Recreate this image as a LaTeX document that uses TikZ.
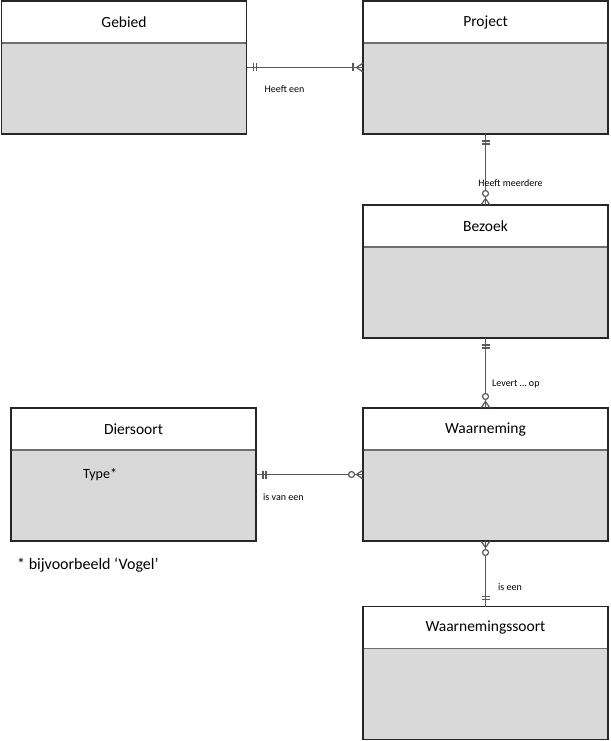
\documentclass[tikz,border=0pt]{standalone}
\usepackage{fontspec}
\setmainfont{Carlito}
\usetikzlibrary{calc}
\definecolor{bodygray}{HTML}{D9D9D9}
\definecolor{edgecol}{HTML}{262626}
\definecolor{headline}{HTML}{6E6E6E}
\definecolor{conncol}{HTML}{595959}
\tikzset{
  entity/.style={fill=bodygray, minimum width=245pt, minimum height=133pt, inner sep=0pt, outer sep=0pt},
  etitle/.style={font=\fontsize{15.5}{18}\selectfont, inner sep=0pt},
  rel/.style={font=\fontsize{10}{12}\selectfont, inner sep=0pt},
  conn/.style={draw=conncol, line width=1.2pt},
  boxedge/.style={draw=edgecol, line width=1.5pt},
  hline/.style={draw=headline, line width=1.8pt},
}
\newcommand\entitybox[4]{%
  \node[entity] (#1) at (#2,#3) {};
  \fill[white] (#1.north west) rectangle ([yshift=-42pt]#1.north east);
  \draw[hline] ([yshift=-42pt]#1.north west) -- ([yshift=-42pt]#1.north east);
  \draw[boxedge] (#1.north west) rectangle (#1.south east);
  \node[etitle] (#1-title) at ([yshift=-21pt]#1.north) {#4};
}
% double bar (one and only one) at end #1, line towards #2
\newcommand\markbars[2]{%
  \coordinate (mA) at ($(#1)!7pt!(#2)$);
  \coordinate (mB) at ($(#1)!10pt!(#2)$);
  \draw[conn] ($(mA)!4pt!90:(#2)$) -- ($(mA)!4pt!-90:(#2)$);
  \draw[conn] ($(mB)!4pt!90:(#2)$) -- ($(mB)!4pt!-90:(#2)$);
}
% crow foot at end #1
\newcommand\markcrow[2]{%
  \coordinate (mC) at ($(#1)!6.5pt!(#2)$);
  \draw[conn] ($(#1)!4.5pt!90:(#2)$) -- (mC) -- ($(#1)!4.5pt!-90:(#2)$);
}
% one or many
\newcommand\markonemany[2]{%
  \markcrow{#1}{#2}
  \coordinate (mD) at ($(#1)!10pt!(#2)$);
  \draw[conn] ($(mD)!4pt!90:(#2)$) -- ($(mD)!4pt!-90:(#2)$);
}
% zero or many
\newcommand\markzeromany[2]{%
  \markcrow{#1}{#2}
  \draw[conn, fill=white] ($(#1)!11.5pt!(#2)$) circle (3pt);
}
\begin{document}
\begin{tikzpicture}[x=1pt, y=-1pt]
\useasboundingbox (0,0) rectangle (610,741);
\fill[white] (0,0) rectangle (610,741);

\entitybox{gebied}{124}{67.5}{Gebied}
\entitybox{project}{485.5}{67.5}{Project}
\entitybox{bezoek}{485.5}{271.5}{Bezoek}
\entitybox{waarneming}{485.5}{474.5}{Waarneming}
\entitybox{diersoort}{133.5}{474.5}{Diersoort}
\entitybox{wsoort}{485.5}{673}{Waarnemingssoort}

\node[font=\fontsize{14}{16}\selectfont, anchor=west, inner sep=0pt] (type) at (83,475) {Type*};
\node[font=\fontsize{16}{19}\selectfont, anchor=west, inner sep=0pt] (note) at (17,565) {* bijvoorbeeld ‘Vogel’};

% connectors
\draw[conn] (gebied.east) -- (project.west);
\markbars{gebied.east}{project.west}
\markonemany{project.west}{gebied.east}

\draw[conn] (project.south) -- (bezoek.north);
\markbars{project.south}{bezoek.north}
\markzeromany{bezoek.north}{project.south}

\draw[conn] (bezoek.south) -- (waarneming.north);
\markbars{bezoek.south}{waarneming.north}
\markzeromany{waarneming.north}{bezoek.south}

\draw[conn] (diersoort.east) -- (waarneming.west);
\markbars{diersoort.east}{waarneming.west}
\markzeromany{waarneming.west}{diersoort.east}

\draw[conn] (waarneming.south) -- (wsoort.north);
\markzeromany{waarneming.south}{wsoort.north}
\markbars{wsoort.north}{waarneming.south}

% labels
\node[rel] (l1) at (284.5,89) {Heeft een};
\node[rel] (l2) at (510.5,183) {Heeft meerdere};
\node[rel, anchor=west] (l3) at (492,384) {Levert … op};
\node[rel, anchor=west] (l4) at (263,497) {is van een};
\node[rel, anchor=west] (l5) at (498,587) {is een};
\end{tikzpicture}
\end{document}
